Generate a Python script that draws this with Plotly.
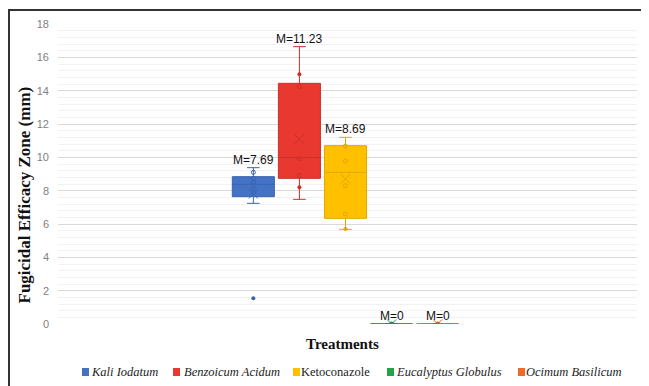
import plotly.graph_objects as go

# ---- data ----
treatments = ["Kali Iodatum", "Benzoicum Acidum", "Ketoconazole", "Eucalyptus Globulus", "Ocimum Basilicum"]
legend_names = ["<i>Kali Iodatum</i>", "<i>Benzoicum Acidum</i>", "Ketoconazole",
                "<i>Eucalyptus Globulus</i>", "<i>Ocimum Basilicum</i>"]
q1_vals = [7.64, 8.74, 6.34, 0, 0]
median_vals = [8.38, 9.98, 9.10, 0, 0]
q3_vals = [8.84, 14.44, 10.70, 0, 0]
lower_vals = [7.24, 7.48, 5.68, 0, 0]
upper_vals = [9.38, 16.64, 11.20, 0, 0]
mean_vals = [7.69, 11.23, 8.69, 0, 0]
mean_marker_y = [7.80, 11.08, 8.70, 0, 0]
inner_points = [
    [9.10, 8.74, 8.50, 8.14, 7.88],
    [14.24, 9.92, 8.92],
    [10.68, 9.78, 8.30, 6.60],
    [0],
    [0],
]
edge_points = [
    [1.54],
    [14.98, 8.20],
    [5.70],
    [0],
    [0],
]

fills = ["#4472C4", "#E8382F", "#FFC000", "#23A347", "#ED6A2B"]
edges = ["#3A64B0", "#C9302A", "#E0A800", "#1E8C3D", "#D45A20"]

positions = [0, 1, 2, 3, 4]

# the page body has an 8px margin; size the figure so page pixels match the reference
OFF = 8
W, H = 649 - OFF, 386 - OFF
# plot area in page pixels: x 58..637, y 24..324
ML, MT = 58 - OFF, 24 - OFF
MR, MB = W - (637 - OFF), H - (324 - OFF)
PW, PH = W - ML - MR, H - MT - MB


def px_x(px):
    return (px - OFF - ML) / PW


def px_y(py):
    return (H - MB - (py - OFF)) / PH


fig = go.Figure()
for i, name in enumerate(treatments):
    fig.add_trace(go.Box(
        x=[positions[i]], q1=[q1_vals[i]], median=[median_vals[i]], q3=[q3_vals[i]],
        lowerfence=[lower_vals[i]], upperfence=[upper_vals[i]],
        width=0.913, whiskerwidth=0.3, fillcolor=fills[i],
        line=dict(color=edges[i], width=1), boxpoints=False, showlegend=False, name=name,
    ))
    fig.add_trace(go.Scatter(
        x=[positions[i]] * len(inner_points[i]), y=inner_points[i], mode="markers",
        marker=dict(symbol="circle-open", size=4, color=edges[i], line=dict(width=1)),
        showlegend=False, hoverinfo="skip"))
    fig.add_trace(go.Scatter(
        x=[positions[i]] * len(edge_points[i]), y=edge_points[i], mode="markers",
        marker=dict(symbol="circle", size=4, color=edges[i]),
        showlegend=False, hoverinfo="skip"))
    fig.add_trace(go.Scatter(
        x=[positions[i]], y=[mean_marker_y[i]], mode="markers",
        marker=dict(symbol="x-thin-open", size=9, color=edges[i], line=dict(width=1, color=edges[i])),
        showlegend=False, hoverinfo="skip"))
    fig.add_annotation(
        x=positions[i], y=upper_vals[i], text=f"M={mean_vals[i]:g}",
        showarrow=False, yanchor="bottom", yshift=-1,
        font=dict(family="Liberation Sans, Arial", size=12, color="#111111"))

# manual legend (squares + labels), page pixel positions
legend_sq_left = [82, 173, 293, 387, 518]
legend_txt_left = [89, 182, 299, 394, 524]
for i in range(len(treatments)):
    fig.add_shape(type="rect", xref="paper", yref="paper",
                  x0=px_x(legend_sq_left[i]), x1=px_x(legend_sq_left[i] + 7),
                  y0=px_y(368), y1=px_y(376), fillcolor=fills[i], line=dict(width=0))
    fig.add_annotation(xref="paper", yref="paper", x=px_x(legend_txt_left[i]), y=px_y(372),
                       xanchor="left", yanchor="middle", text=legend_names[i], showarrow=False,
                       font=dict(family="Liberation Serif, Times New Roman", size=12.5, color="#222222"))

fig.update_layout(
    width=W, height=H,
    margin=dict(l=ML, r=MR, t=MT, b=MB, autoexpand=False),
    plot_bgcolor="white", paper_bgcolor="white",
    showlegend=False,
    xaxis=dict(range=[-4.239, 8.326], showgrid=False, zeroline=False,
               showticklabels=False, ticks="", showline=False),
    yaxis=dict(range=[0, 18], dtick=2, tick0=0, showgrid=True, gridcolor="#D9D9D9",
               gridwidth=1, zeroline=False, ticks="", showline=False, automargin=False,
               ticklabelstandoff=8,
               tickfont=dict(family="Liberation Sans, Arial", size=11, color="#7F7F7F"),
               minor=dict(dtick=0.4, showgrid=True, gridcolor="#F2F2F2", gridwidth=1)),
)

fig.add_annotation(xref="paper", yref="paper", x=px_x(342), y=px_y(344), yanchor="middle",
                   text="<b>Treatments</b>", showarrow=False,
                   font=dict(family="Liberation Serif, Times New Roman", size=15, color="#111111"))
fig.add_annotation(xref="paper", yref="paper", x=px_x(24), y=px_y(195.5), xanchor="center", yanchor="middle",
                   text="<b>Fugicidal Efficacy Zone (mm)</b>", showarrow=False, textangle=-90,
                   font=dict(family="Liberation Serif, Times New Roman", size=17, color="#111111"))

# frame around the chart
fig.add_shape(type="rect", xref="paper", yref="paper", x0=px_x(9), x1=px_x(700), y0=px_y(450), y1=px_y(10),
              line=dict(color="#333333", width=2), fillcolor="rgba(0,0,0,0)", layer="above")

fig.write_html("out.html")
